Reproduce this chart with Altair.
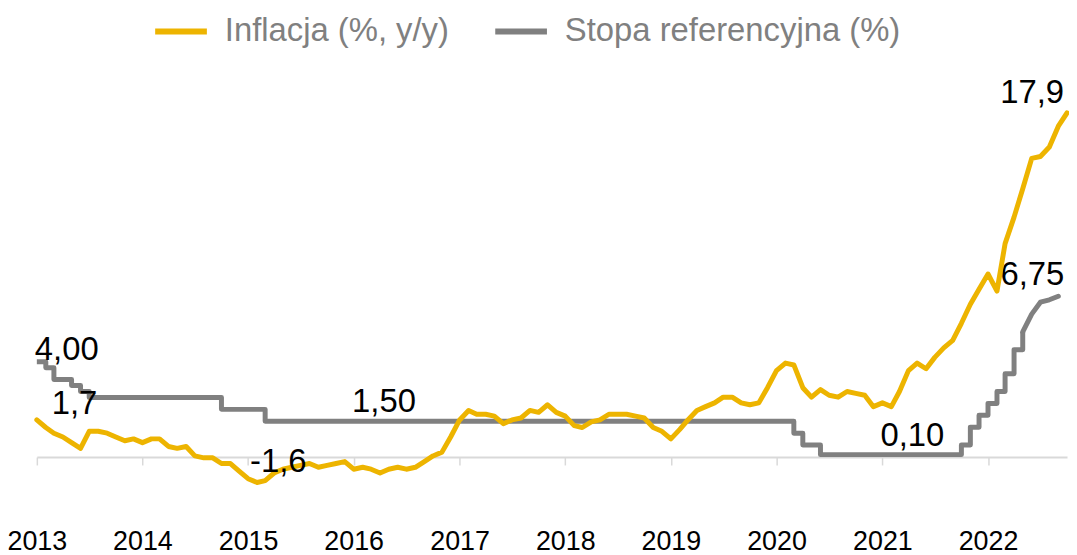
import altair as alt
import pandas as pd

# ---- data ----
infl_start, infl_end = "2013-01-01", "2022-10-01"
inflation = [
    1.7, 1.3, 1.0, 0.8, 0.5, 0.2, 1.1, 1.1, 1.0, 0.8, 0.6, 0.7,          # 2013
    0.5, 0.7, 0.7, 0.3, 0.2, 0.3, -0.2, -0.3, -0.3, -0.6, -0.6, -1.0,    # 2014
    -1.4, -1.6, -1.5, -1.1, -0.9, -0.8, -0.7, -0.6, -0.8, -0.7, -0.6, -0.5,  # 2015
    -0.9, -0.8, -0.9, -1.1, -0.9, -0.8, -0.9, -0.8, -0.5, -0.2, 0.0, 0.8,    # 2016
    1.7, 2.2, 2.0, 2.0, 1.9, 1.5, 1.7, 1.8, 2.2, 2.1, 2.5, 2.1,          # 2017
    1.9, 1.4, 1.3, 1.6, 1.7, 2.0, 2.0, 2.0, 1.9, 1.8, 1.3, 1.1,          # 2018
    0.7, 1.2, 1.7, 2.2, 2.4, 2.6, 2.9, 2.9, 2.6, 2.5, 2.6, 3.4,          # 2019
    4.3, 4.7, 4.6, 3.4, 2.9, 3.3, 3.0, 2.9, 3.2, 3.1, 3.0, 2.4,          # 2020
    2.6, 2.4, 3.2, 4.3, 4.7, 4.4, 5.0, 5.5, 5.9, 6.8, 7.8, 8.6,          # 2021
    9.4, 8.5, 11.0, 12.4, 13.9, 15.5, 15.6, 16.1, 17.2, 17.9,            # 2022
]
rate_start, rate_end = "2013-01-01", "2022-05-01"
rate_steps = [
    4.00, 3.75, 3.25, 3.25, 3.00, 2.75, 2.50, 2.50, 2.50, 2.50, 2.50, 2.50,  # 2013
    2.50, 2.50, 2.50, 2.50, 2.50, 2.50, 2.50, 2.50, 2.50, 2.00, 2.00, 2.00,  # 2014
    2.00, 2.00, 1.50, 1.50, 1.50, 1.50, 1.50, 1.50, 1.50, 1.50, 1.50, 1.50,  # 2015
    1.50, 1.50, 1.50, 1.50, 1.50, 1.50, 1.50, 1.50, 1.50, 1.50, 1.50, 1.50,  # 2016
    1.50, 1.50, 1.50, 1.50, 1.50, 1.50, 1.50, 1.50, 1.50, 1.50, 1.50, 1.50,  # 2017
    1.50, 1.50, 1.50, 1.50, 1.50, 1.50, 1.50, 1.50, 1.50, 1.50, 1.50, 1.50,  # 2018
    1.50, 1.50, 1.50, 1.50, 1.50, 1.50, 1.50, 1.50, 1.50, 1.50, 1.50, 1.50,  # 2019
    1.50, 1.50, 1.00, 0.50, 0.50, 0.10, 0.10, 0.10, 0.10, 0.10, 0.10, 0.10,  # 2020
    0.10, 0.10, 0.10, 0.10, 0.10, 0.10, 0.10, 0.10, 0.10, 0.50, 1.25, 1.75,  # 2021
    2.25, 2.75, 3.50, 4.50, 5.25,                                            # 2022
]
rate_tail_dates = ["2022-05-01", "2022-06-01", "2022-07-01", "2022-08-01", "2022-09-01"]
rate_tail = [5.25, 6.00, 6.50, 6.60, 6.75]

tick_years = [2013, 2014, 2015, 2016, 2017, 2018, 2019, 2020, 2021, 2022]

infl_label_dates = ["2013-01-01", "2015-02-01", "2022-10-01"]
infl_label_values = [1.7, -1.6, 17.9]
infl_label_texts = ["1,7", "-1,6", "17,9"]
rate_label_dates = ["2013-01-01", "2016-04-01", "2021-04-01", "2022-09-01"]
rate_label_values = [4.00, 1.50, 0.10, 6.75]
rate_label_texts = ["4,00", "1,50", "0,10", "6,75"]

S_INF = "Inflacja (%, y/y)"
S_RATE = "Stopa referencyjna (%)"
YELLOW = "#EDB400"
GREY = "#808080"

# ---- tables ----
df_inf = pd.DataFrame({"date": pd.date_range(infl_start, infl_end, freq="MS"),
                       "value": inflation, "series": S_INF})
df_rate = pd.DataFrame({"date": pd.date_range(rate_start, rate_end, freq="MS"),
                        "value": rate_steps, "series": S_RATE})
df_tail = pd.DataFrame({"date": pd.to_datetime(rate_tail_dates),
                        "value": rate_tail, "series": S_RATE})
df_inf_lab = pd.DataFrame({"date": pd.to_datetime(infl_label_dates),
                           "value": infl_label_values, "text": infl_label_texts})
df_rate_lab = pd.DataFrame({"date": pd.to_datetime(rate_label_dates),
                            "value": rate_label_values, "text": rate_label_texts})

x_scale = alt.Scale(domain=[alt.DateTime(year=2013, month=1, date=1),
                            alt.DateTime(year=2022, month=10, date=1)], nice=False)
x_axis = alt.Axis(values=[alt.DateTime(year=y, month=1, date=1) for y in tick_years],
                  format="%Y", title=None, grid=False, labelFontSize=27,
                  labelFont="Liberation Sans", labelColor="#000000", labelPadding=64,
                  tickSize=8, tickColor="#d9d9d9", tickWidth=1.5,
                  domainColor="#d9d9d9", domainWidth=2, labelFlush=False,
                  labelOverlap=False)
X = alt.X("date:T", scale=x_scale, axis=x_axis)
Xn = alt.X("date:T", scale=x_scale)

legend = alt.Legend(orient="none", legendX=116, legendY=-57, direction="horizontal",
                    title=None, symbolType="stroke", symbolSize=2704,
                    symbolStrokeWidth=6, labelFontSize=33, labelFont="Liberation Sans",
                    labelColor="#808080", labelOffset=15, columnPadding=34, padding=0,
                    labelLimit=500)
color = alt.Color("series:N", scale=alt.Scale(domain=[S_INF, S_RATE], range=[YELLOW, GREY]),
                  legend=legend)

y_rate = alt.Scale(domain=[0, 16.7], nice=False, zero=False)
y_inf = alt.Scale(domain=[-0.257, 20.73], nice=False, zero=False)

rate_line = alt.Chart(df_rate).mark_line(interpolate="step-after", strokeWidth=5,
                                         strokeJoin="round").encode(
    x=X, y=alt.Y("value:Q", scale=y_rate, axis=None), color=color)
rate_tail_line = alt.Chart(df_tail).mark_line(strokeWidth=5, strokeJoin="round",
                                              strokeCap="round").encode(
    x=Xn, y=alt.Y("value:Q", scale=y_rate, axis=None), color=color)

label_style = {
    "4,00": dict(align="left", dx=-2, dy=-2),
    "1,50": dict(align="center", dx=4, dy=-9),
    "0,10": dict(align="center", dx=4, dy=-9),
    "6,75": dict(align="right", dx=6, dy=-11),
    "1,7": dict(align="left", dx=15, dy=-6),
    "-1,6": dict(align="left", dx=-7, dy=-11),
    "17,9": dict(align="right", dx=-3, dy=-10),
}


def text_layer(df, txt, yscale):
    st = label_style[txt]
    return alt.Chart(df).transform_filter(alt.datum.text == txt).mark_text(
        font="Liberation Sans", fontSize=33, color="#000000", baseline="alphabetic",
        **st).encode(x=Xn, y=alt.Y("value:Q", scale=yscale, axis=None), text="text:N")


rate_layer = alt.layer(rate_line, rate_tail_line,
                       *[text_layer(df_rate_lab, t, y_rate) for t in rate_label_texts])

inf_line = alt.Chart(df_inf).mark_line(strokeWidth=5, strokeJoin="round",
                                       strokeCap="round").encode(
    x=Xn, y=alt.Y("value:Q", scale=y_inf, axis=None), color=color)
inf_layer = alt.layer(inf_line,
                      *[text_layer(df_inf_lab, t, y_inf) for t in infl_label_texts])

chart = alt.layer(rate_layer, inf_layer).resolve_scale(y="independent").properties(
    width=1036, height=400,
    padding={"left": 29, "top": 50, "right": 2, "bottom": 97},
    autosize=alt.AutoSizeParams(type="none"),
).configure_view(stroke=None)

chart.save("out.html", embed_options={"renderer": "svg", "actions": False})
